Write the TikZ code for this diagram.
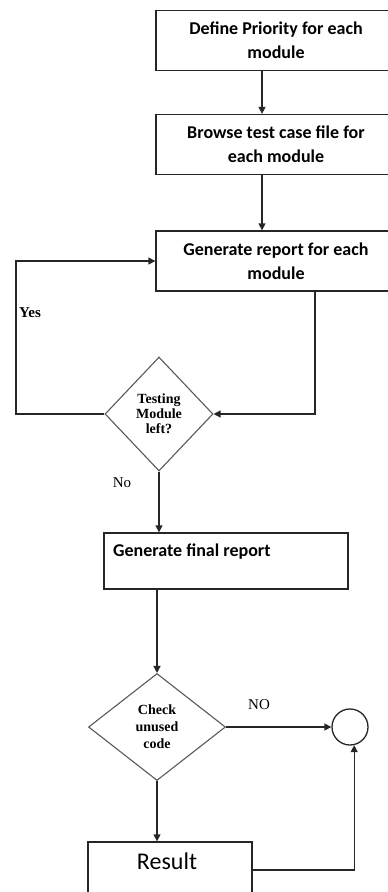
\documentclass[tikz,border=0pt]{standalone}
\usepackage{fontspec}
\setmainfont{Liberation Serif}
\newfontfamily\boxfont{Carlito}
\usetikzlibrary{shapes.geometric,arrows.meta}

\tikzset{
  line/.style={draw=black!85, line width=1.3pt},
  arr/.style={line, -{Triangle[length=7pt,width=7pt]}},
  procbox/.style={line, rectangle, minimum width=240pt, minimum height=60pt,
    inner sep=0pt, align=center,
    font=\boxfont\bfseries\fontsize{18}{24}\selectfont},
  decision/.style={draw=black!65, line width=1.1pt, diamond, inner sep=0pt,
    align=center, font=\bfseries\fontsize{14}{15}\selectfont},
  lbl/.style={inner sep=0pt, font=\fontsize{15}{17}\selectfont},
}

\begin{document}
\begin{tikzpicture}[x=1pt, y=-1pt]
  \useasboundingbox (0,0) rectangle (388,892);
  \clip (0,0) rectangle (388,892);

  % process steps
  \node[procbox] (b1) at (276,40.5) {Define Priority for each\\module};
  \node[procbox] (b2) at (276,144.5) {Browse test case file for\\each module};
  \node[procbox] (b3) at (276,261) {Generate report for each\\module};
  \node[decision, minimum width=108pt, minimum height=114pt] (d1) at (159,414)
    {Testing\\Module\\left?};
  \node[procbox, minimum width=244pt, minimum height=56pt] (b4) at (226,561) {};
  \node[anchor=west, inner sep=0pt, font=\boxfont\bfseries\fontsize{18}{24}\selectfont]
    (b4t) at (113,552) {Generate final report};
  \node[decision, minimum width=137pt, minimum height=107pt,
    font=\bfseries\fontsize{14}{17}\selectfont] (d2) at (157,727)
    {Check\\unused\\code};
  \node[line, circle, minimum size=36pt, inner sep=0pt] (circ) at (350,727) {};
  \node[line, rectangle, minimum width=164pt, minimum height=56pt, inner sep=0pt]
    (res) at (170,870) {};
  \node[inner sep=0pt, font=\boxfont\fontsize{24}{28}\selectfont] (rest) at (167,861) {Result};

  % connectors
  \coordinate (c12) at (262,0);
  \draw[arr] (b1.south -| c12) -- (b2.north -| c12);
  \draw[arr] (b2.south -| c12) -- (b3.north -| c12);
  \coordinate (c3) at (315,0);
  \draw[arr] (b3.south -| c3) |- (d1.east);
  \coordinate (cl) at (16,0);
  \draw[arr] (d1.west) -- (d1.west -| cl) |- (b3.west);
  \draw[arr] (d1.south) -- (d1.south |- b4.north);
  \draw[arr] (d2.north |- b4.south) -- (d2.north);
  \draw[arr] (d2.east) -- (circ.west);
  \draw[arr] (d2.south) -- (d2.south |- res.north);
  \draw[arr] (res.east) -| (circ.-77);

  % branch labels
  \node[lbl, anchor=west, font=\bfseries\fontsize{15}{17}\selectfont] (yes) at (19,313) {Yes};
  \node[lbl] (no) at (122,483) {No};
  \node[lbl] (no2) at (259,705) {NO};
\end{tikzpicture}
\end{document}
